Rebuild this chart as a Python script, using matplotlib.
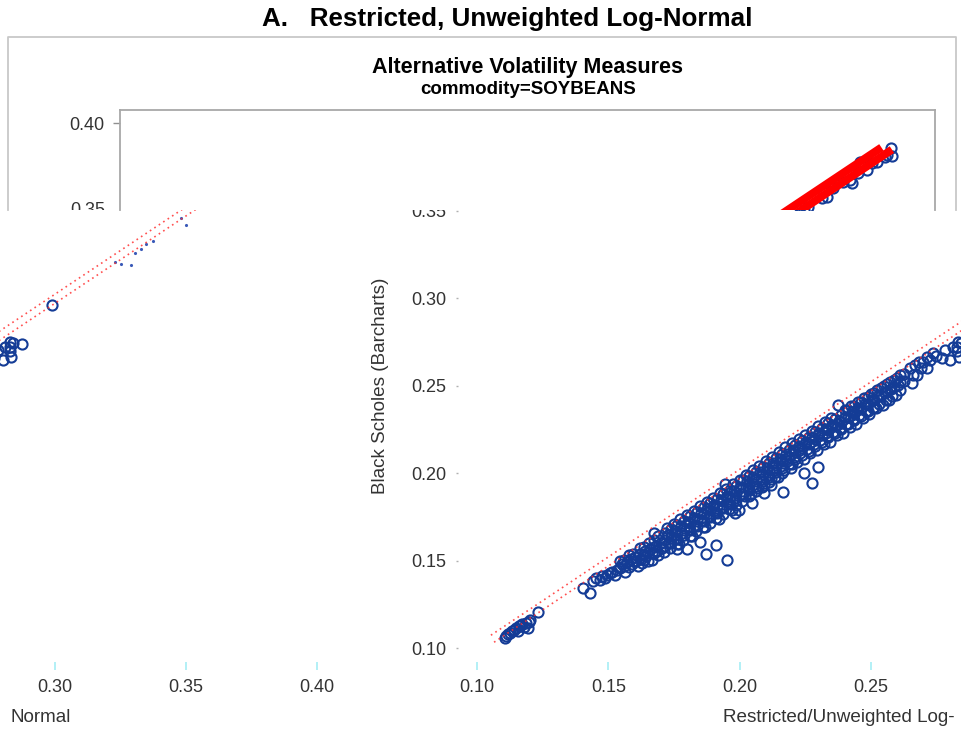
import matplotlib.pyplot as plt
import numpy as np
from matplotlib.patches import Rectangle
from matplotlib.lines import Line2D

plt.rcParams['font.family'] = ['Liberation Sans', 'DejaVu Sans']

W, H = 961, 745

# x = Restricted/Unweighted Log-Normal, y = Black Scholes (Barcharts)
low_cluster = [
    (0.1105, 0.1055), (0.1110, 0.1068), (0.1118, 0.1078), (0.1126, 0.1086), (0.1132, 0.1096),
    (0.1140, 0.1102), (0.1149, 0.1114), (0.1155, 0.1100), (0.1160, 0.1123), (0.1168, 0.1131),
    (0.1171, 0.1138), (0.1178, 0.1121), (0.1185, 0.1142), (0.1194, 0.1114), (0.1198, 0.1151),
    (0.1202, 0.1160), (0.1232, 0.1206),
]

band_low = [
    (0.1404, 0.1343), (0.1430, 0.1314), (0.1442, 0.1385), (0.1455, 0.1398), (0.1468, 0.1390),
    (0.1478, 0.1410), (0.1488, 0.1400), (0.1496, 0.1420), (0.1505, 0.1428), (0.1515, 0.1432),
    (0.1526, 0.1417), (0.1535, 0.1447), (0.1545, 0.1456), (0.1552, 0.1480), (0.1564, 0.1434),
    (0.1570, 0.1492), (0.1580, 0.1463), (0.1585, 0.1506), (0.1592, 0.1478), (0.1600, 0.1522),
    (0.1606, 0.1495), (0.1612, 0.1470), (0.1620, 0.1537), (0.1625, 0.1511), (0.1630, 0.1488),
    (0.1640, 0.1552), (0.1645, 0.1526), (0.1650, 0.1500), (0.1660, 0.1567), (0.1665, 0.1541),
    (0.1667, 0.1503), (0.1674, 0.1660), (0.1680, 0.1582), (0.1685, 0.1556), (0.1690, 0.1530),
    (0.1700, 0.1602), (0.1705, 0.1572), (0.1712, 0.1546), (0.1580, 0.1530), (0.1620, 0.1570),
    (0.1655, 0.1600), (0.1690, 0.1640), (0.1545, 0.1495), (0.1560, 0.1505), (0.1560, 0.1470),
    (0.1595, 0.1540), (0.1595, 0.1500), (0.1635, 0.1580), (0.1635, 0.1540), (0.1635, 0.1505),
    (0.1675, 0.1620), (0.1675, 0.1580), (0.1675, 0.1545), (0.1715, 0.1660), (0.1715, 0.1620),
    (0.1715, 0.1585),
]

band_mid = [
    (0.1725, 0.1685), (0.1728, 0.1645), (0.1732, 0.1605), (0.1736, 0.1570),
    (0.1750, 0.1710), (0.1753, 0.1670), (0.1757, 0.1630), (0.1761, 0.1592),
    (0.1775, 0.1735), (0.1778, 0.1695), (0.1782, 0.1655), (0.1786, 0.1618),
    (0.1800, 0.1760), (0.1803, 0.1720), (0.1807, 0.1680), (0.1811, 0.1642),
    (0.1825, 0.1785), (0.1828, 0.1745), (0.1832, 0.1705), (0.1836, 0.1668),
    (0.1850, 0.1810), (0.1853, 0.1770), (0.1857, 0.1730), (0.1861, 0.1690),
    (0.1875, 0.1835), (0.1878, 0.1795), (0.1882, 0.1755), (0.1886, 0.1716),
    (0.1900, 0.1860), (0.1903, 0.1820), (0.1907, 0.1780), (0.1911, 0.1742),
    (0.1925, 0.1885), (0.1928, 0.1845), (0.1932, 0.1805), (0.1936, 0.1766),
    (0.1945, 0.1940), (0.1950, 0.1910), (0.1953, 0.1870), (0.1957, 0.1830),
    (0.1961, 0.1792), (0.1975, 0.1935), (0.1978, 0.1895), (0.1982, 0.1855),
    (0.1986, 0.1815), (0.2000, 0.1962), (0.2003, 0.1922), (0.2007, 0.1882),
    (0.2011, 0.1842), (0.1770, 0.1595), (0.1820, 0.1640), (0.1870, 0.1690),
    (0.1920, 0.1740), (0.1970, 0.1790),
]

band_mid_fill = [
    (0.1738, 0.1678), (0.1738, 0.1638), (0.1738, 0.1598),
    (0.1763, 0.1703), (0.1763, 0.1663), (0.1763, 0.1623),
    (0.1788, 0.1728), (0.1788, 0.1688), (0.1788, 0.1648),
    (0.1813, 0.1753), (0.1813, 0.1713), (0.1813, 0.1673),
    (0.1838, 0.1778), (0.1838, 0.1738), (0.1838, 0.1698),
    (0.1863, 0.1803), (0.1863, 0.1763), (0.1863, 0.1723),
    (0.1888, 0.1828), (0.1888, 0.1788), (0.1888, 0.1748),
    (0.1913, 0.1853), (0.1913, 0.1813), (0.1913, 0.1773),
    (0.1938, 0.1878), (0.1938, 0.1838), (0.1938, 0.1798),
    (0.1963, 0.1903), (0.1963, 0.1863), (0.1963, 0.1823),
    (0.1988, 0.1928), (0.1988, 0.1888), (0.1988, 0.1848),
]

band_high = [
    (0.2025, 0.1990), (0.2028, 0.1952), (0.2032, 0.1912), (0.2036, 0.1870),
    (0.2050, 0.2016), (0.2053, 0.1978), (0.2057, 0.1938), (0.2061, 0.1896),
    (0.2075, 0.2042), (0.2078, 0.2004), (0.2082, 0.1964), (0.2086, 0.1922),
    (0.2100, 0.2068), (0.2103, 0.2030), (0.2107, 0.1990), (0.2111, 0.1950),
    (0.2125, 0.2094), (0.2128, 0.2056), (0.2132, 0.2016), (0.2136, 0.1976),
    (0.2150, 0.2120), (0.2153, 0.2082), (0.2157, 0.2042), (0.2161, 0.2002),
    (0.2175, 0.2146), (0.2178, 0.2108), (0.2182, 0.2068),
    (0.2200, 0.2170), (0.2203, 0.2132), (0.2207, 0.2092),
    (0.2225, 0.2194), (0.2228, 0.2156), (0.2232, 0.2116),
    (0.2250, 0.2218), (0.2253, 0.2180), (0.2257, 0.2140),
    (0.2275, 0.2242), (0.2278, 0.2204), (0.2282, 0.2164),
    (0.2300, 0.2266), (0.2303, 0.2228), (0.2307, 0.2188),
    (0.2325, 0.2290), (0.2328, 0.2252), (0.2332, 0.2212),
    (0.2350, 0.2313), (0.2353, 0.2275), (0.2357, 0.2235),
    (0.2375, 0.2390), (0.2378, 0.2298), (0.2382, 0.2258),
    (0.2400, 0.2360), (0.2403, 0.2322), (0.2407, 0.2282),
    (0.2425, 0.2384), (0.2428, 0.2346), (0.2432, 0.2306),
    (0.2450, 0.2407), (0.2453, 0.2369), (0.2457, 0.2329),
    (0.2475, 0.2430), (0.2478, 0.2392), (0.2482, 0.2352),
    (0.2500, 0.2453), (0.2503, 0.2415), (0.2507, 0.2370),
    (0.2525, 0.2476), (0.2528, 0.2438), (0.2532, 0.2395),
    (0.2550, 0.2498), (0.2553, 0.2460), (0.2557, 0.2418),
    (0.2575, 0.2520), (0.2578, 0.2482), (0.2582, 0.2440),
    (0.2600, 0.2542), (0.2603, 0.2505), (0.2611, 0.2474),
    (0.2625, 0.2563), (0.2628, 0.2527),
]

band_high_fill = [
    (0.2013, 0.1958), (0.2013, 0.1918), (0.2013, 0.1878),
    (0.2038, 0.1983), (0.2038, 0.1943), (0.2038, 0.1903),
    (0.2063, 0.2008), (0.2063, 0.1968), (0.2063, 0.1928),
    (0.2088, 0.2033), (0.2088, 0.1993), (0.2088, 0.1953),
    (0.2113, 0.2058), (0.2113, 0.2018), (0.2113, 0.1978),
    (0.2138, 0.2083), (0.2138, 0.2043), (0.2138, 0.2003),
    (0.2163, 0.2108), (0.2163, 0.2068), (0.2163, 0.2028),
    (0.2188, 0.2133), (0.2188, 0.2093), (0.2188, 0.2053),
    (0.2213, 0.2158), (0.2213, 0.2118), (0.2213, 0.2078),
    (0.2238, 0.2183), (0.2238, 0.2143), (0.2238, 0.2103),
    (0.2263, 0.2208), (0.2263, 0.2168), (0.2263, 0.2128),
    (0.2288, 0.2233), (0.2288, 0.2193), (0.2288, 0.2153),
    (0.2313, 0.2258), (0.2313, 0.2218), (0.2313, 0.2178),
    (0.2338, 0.2283), (0.2338, 0.2243), (0.2338, 0.2203),
    (0.2363, 0.2308), (0.2363, 0.2268), (0.2363, 0.2228),
    (0.2388, 0.2333), (0.2388, 0.2293), (0.2388, 0.2253),
    (0.2413, 0.2358), (0.2413, 0.2318), (0.2413, 0.2278),
    (0.2438, 0.2383), (0.2438, 0.2343), (0.2438, 0.2303),
    (0.2463, 0.2408), (0.2463, 0.2368), (0.2463, 0.2328),
    (0.2488, 0.2433), (0.2488, 0.2393), (0.2488, 0.2353),
    (0.2513, 0.2458), (0.2513, 0.2418), (0.2513, 0.2378),
    (0.2538, 0.2483), (0.2538, 0.2443),
    (0.2563, 0.2508), (0.2563, 0.2468),
    (0.2588, 0.2533), (0.2588, 0.2493),
    (0.2613, 0.2558), (0.2613, 0.2518),
]

band_high_low = [
    (0.2020, 0.1870), (0.2045, 0.1880), (0.2070, 0.1915), (0.2095, 0.1930),
    (0.2120, 0.1965), (0.2145, 0.1980), (0.2170, 0.2015), (0.2195, 0.2030),
    (0.2220, 0.2065), (0.2245, 0.2080), (0.2270, 0.2115), (0.2295, 0.2130),
    (0.2320, 0.2165), (0.2345, 0.2180), (0.2370, 0.2215), (0.2395, 0.2230),
    (0.2420, 0.2265), (0.2445, 0.2280), (0.2470, 0.2315), (0.2495, 0.2335),
    (0.2520, 0.2370), (0.2545, 0.2390), (0.2570, 0.2420), (0.2595, 0.2445),
]

band_top = [
    (0.2650, 0.2600), (0.2657, 0.2514), (0.2662, 0.2560), (0.2668, 0.2615),
    (0.2676, 0.2560), (0.2685, 0.2632), (0.2690, 0.2600), (0.2699, 0.2634),
    (0.2714, 0.2600), (0.2714, 0.2663), (0.2726, 0.2646), (0.2737, 0.2686),
    (0.2750, 0.2668), (0.2771, 0.2657), (0.2783, 0.2703), (0.2802, 0.2646),
    (0.2812, 0.2722), (0.2829, 0.2720), (0.2832, 0.2750), (0.2830, 0.2700),
    (0.2835, 0.2665), (0.2842, 0.2743), (0.2876, 0.2737), (0.2990, 0.2960),
]

lower_outliers = [
    (0.1762, 0.1566), (0.1800, 0.1566), (0.1850, 0.1606), (0.1872, 0.1537),
    (0.1910, 0.1589), (0.1952, 0.1503), (0.1983, 0.1771), (0.1998, 0.1789),
    (0.2048, 0.1829), (0.2093, 0.1886), (0.2166, 0.1891), (0.2246, 0.2000),
    (0.2276, 0.1943), (0.2300, 0.2034), (0.2200, 0.2050), (0.2120, 0.1930),
]

upper_sparse = [
    (0.3230, 0.3206), (0.3255, 0.3195), (0.3290, 0.3190), (0.3307, 0.3257),
    (0.3330, 0.3280), (0.3350, 0.3310), (0.3374, 0.3326), (0.3480, 0.3457),
    (0.3500, 0.3417),
]

top_points = [
    (0.3525, 0.3480), (0.3545, 0.3505), (0.3560, 0.3520), (0.3613, 0.3571),
    (0.3632, 0.3577), (0.3644, 0.3646), (0.3655, 0.3629), (0.3693, 0.3663),
    (0.3720, 0.3674), (0.3728, 0.3657), (0.3750, 0.3714), (0.3758, 0.3777),
    (0.3785, 0.3731), (0.3804, 0.3771), (0.3823, 0.3777), (0.3853, 0.3806),
    (0.3861, 0.3817), (0.3876, 0.3857), (0.3880, 0.3811),
]

# two reference lines (end points)
line_upper_x = [0.1053, 0.3840]
line_upper_y = [0.1073, 0.3860]
line_lower_x = [0.1065, 0.3880]
line_lower_y = [0.1033, 0.3848]

x_ticks = [0.10, 0.15, 0.20, 0.25, 0.30, 0.35, 0.40]
y_ticks = [0.10, 0.15, 0.20, 0.25, 0.30, 0.35, 0.40]

dense = np.array(low_cluster + band_low + band_mid + band_mid_fill + band_high
                 + band_high_fill + band_high_low + band_top + lower_outliers)
sparse = np.array(upper_sparse)
top = np.array(top_points)
all_pts = np.vstack([dense, sparse, top])

BLUE = '#143c96'
TXT = '#333333'
MS, MEW = 7.3, 1.5


def box(l, t, r, b):
    return [l / W, 1 - b / H, (r - l) / W, (b - t) / H]


fig = plt.figure(figsize=(W / 100, H / 100), dpi=100)


def wide_panel(left, faint_upper):
    ax = fig.add_axes(box(left, 110, left + 820, 662), zorder=0)
    ax.set_facecolor('none')
    for s in ax.spines.values():
        s.set_visible(False)
    ax.set_xlim(0.09276, 0.40514)
    ax.set_ylim(0.092, 0.40743)
    if faint_upper:
        keep = dense[:, 0] <= 0.30
        ax.plot(dense[keep, 0], dense[keep, 1], 'o', mfc='none', mec=BLUE, ms=MS, mew=MEW)
        ax.plot(sparse[:, 0], sparse[:, 1], '.', color='#3a5ab8', ms=2.5)
    else:
        ax.plot(dense[:, 0], dense[:, 1], 'o', mfc='none', mec=BLUE, ms=MS, mew=MEW)
    ax.plot(line_upper_x, line_upper_y, color='#ff3030', lw=1.2, ls=(0, (1, 2.2)), alpha=0.85)
    ax.plot(line_lower_x, line_lower_y, color='#ff3030', lw=1.2, ls=(0, (1, 2.2)), alpha=0.85)
    ax.set_xticks(x_ticks)
    ax.set_xticklabels(['%.2f' % v for v in x_ticks])
    ax.set_yticks(y_ticks)
    ax.set_yticklabels(['%.2f' % v for v in y_ticks])
    ax.tick_params(axis='x', length=5.8, width=1.2, color='#a6eef5', pad=6.5,
                   labelsize=13, labelcolor=TXT)
    ax.tick_params(axis='y', length=1.2, width=1, color='#b0b0b0', pad=7,
                   labelsize=13, labelcolor=TXT)
    ax.set_ylabel('Black Scholes (Barcharts)', fontsize=13.6, color=TXT, labelpad=16)
    return ax


wide_panel(458, False)
wide_panel(458 - 947.5, True)

# x axis title, split across the right and left edges as in the picture
fig.text(723 / W, 1 - 718 / H, 'Restricted/Unweighted Log-', ha='left', va='center',
         fontsize=13.6, color=TXT)
fig.text(10 / W, 1 - 718 / H, 'Normal', ha='left', va='center', fontsize=13.6, color=TXT)

# the top strip hides the lower picture above y = 210 px
fig.add_artist(Rectangle((0, 1 - 210 / H), 1, 210 / H, transform=fig.transFigure,
                         facecolor='white', edgecolor='none', zorder=1))
fig.add_artist(Line2D([8 / W, 8 / W, 956 / W, 956 / W],
                      [1 - 210 / H, 1 - 37 / H, 1 - 37 / H, 1 - 210 / H],
                      transform=fig.transFigure, color='#c8c8c8', lw=1.3, zorder=2))

ax_top = fig.add_axes(box(120, 110, 935, 210), zorder=2)
ax_top.set_facecolor('none')
for side in ['left', 'right', 'top']:
    ax_top.spines[side].set_color('#a8a8a8')
    ax_top.spines[side].set_linewidth(1.3)
ax_top.spines['bottom'].set_visible(False)
ax_top.set_xlim(0.0939, 0.4044)
ax_top.set_ylim(0.35029, 0.40743)
ax_top.plot(all_pts[:, 0], all_pts[:, 1], 'o', mfc='none', mec=BLUE, ms=MS, mew=MEW)
ax_top.plot(line_upper_x, line_upper_y, color='red', lw=5.8, solid_capstyle='butt')
ax_top.plot(line_lower_x, line_lower_y, color='red', lw=5.8, solid_capstyle='butt')
ax_top.set_xticks([])
ax_top.set_yticks([0.40])
ax_top.set_yticklabels(['0.40'])
ax_top.tick_params(axis='y', length=5, width=1, color='#909090', pad=6,
                   labelsize=13, labelcolor=TXT)

clip = Rectangle((0, 1 - 210 / H), 1, 210 / H, transform=fig.transFigure)
t35 = fig.text(105 / W, 1 - 210.5 / H, '0.35', ha='right', va='center',
               fontsize=13, color=TXT, zorder=3)
t35.set_clip_path(clip)

fig.text(507 / W, 1 - 19 / H, 'A.   Restricted, Unweighted Log-Normal', ha='center', va='center',
         fontsize=18.75, fontweight='bold', color='black', zorder=3)
fig.text(528 / W, 1 - 67 / H, 'Alternative Volatility Measures', ha='center', va='center',
         fontsize=15.5, fontweight='bold', color='black', zorder=3)
fig.text(528 / W, 1 - 89 / H, 'commodity=SOYBEANS', ha='center', va='center',
         fontsize=13.5, fontweight='bold', color='black', zorder=3)

fig.savefig('out.png', dpi=100)
